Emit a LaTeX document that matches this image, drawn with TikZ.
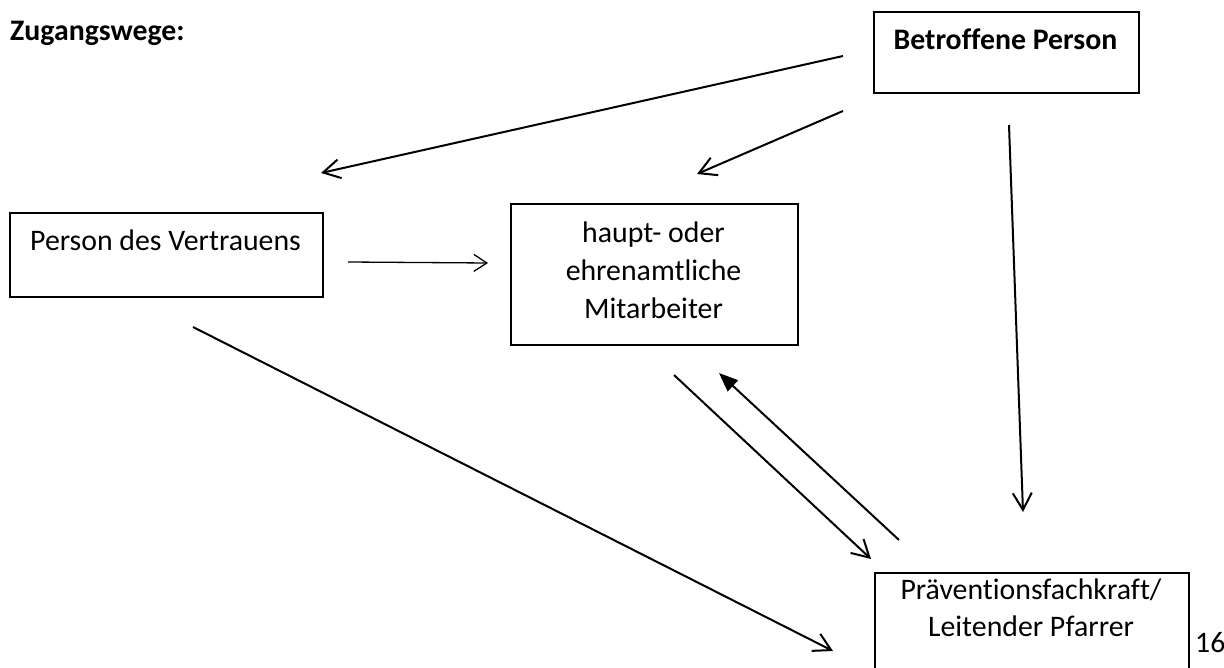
\documentclass[tikz,border=0pt]{standalone}
\usepackage{fontspec}
\setmainfont{Carlito}[Ligatures=NoCommon]
\usetikzlibrary{arrows.meta}
\begin{document}
\begin{tikzpicture}[x=1pt,y=-1pt,
  box/.style={draw,line width=2pt,rectangle,inner sep=0pt,anchor=north west},
  txt/.style={font=\fontsize{29.8}{38}\selectfont,anchor=base,inner sep=0pt},
  btxt/.style={font=\fontsize{29.8}{38}\selectfont\bfseries,inner sep=0pt},
  conn/.style={line width=2pt,-{Straight Barb[length=17pt,width=19pt,line width=2pt]}},
  thin/.style={line width=1.3pt,-{Straight Barb[length=13pt,width=17pt,line width=1.3pt]}},
  solid/.style={line width=2pt,-{Triangle[length=19pt,width=15pt]}}]
\useasboundingbox (0,0) rectangle (1224,668);
\clip (0,0) rectangle (1224,668);
\fill[white] (0,0) rectangle (1224,668);
% title
\node[btxt,anchor=base west] (title) at (10,41) {Zugangswege:};
% boxes
\node[box,minimum width=265pt,minimum height=81pt] (bp) at (873,11) {};
\node[btxt,anchor=base] (bpt) at (1005.5,50) {Betroffene Person};
\node[box,minimum width=313pt,minimum height=84pt] (pv) at (9,212) {};
\node[txt] (pvt) at (165.5,251) {Person des Vertrauens};
\node[box,minimum width=287pt,minimum height=141pt] (ma) at (510,203) {};
\node[txt] (mat1) at (653.5,243) {haupt- oder};
\node[txt] (mat2) at (653.5,281) {ehrenamtliche};
\node[txt] (mat3) at (653.5,319) {Mitarbeiter};
\node[box,minimum width=314pt,minimum height=140pt] (pf) at (874,572) {};
\node[txt] (pft1) at (1031,599) {Präventionsfachkraft/};
\node[txt] (pft2) at (1031,636) {Leitender Pfarrer};
\node[txt,anchor=base west] (num) at (1195,652) {16};
% arrow ends
\coordinate (a1s) at (843,56);   \coordinate (a1e) at (321,173);
\coordinate (a2s) at (843,111);  \coordinate (a2e) at (697,174);
\coordinate (a3s) at (1009,125); \coordinate (a3e) at (1023,512);
\coordinate (a4s) at (348,262);  \coordinate (a4e) at (488,263);
\coordinate (a5s) at (193,327);  \coordinate (a5e) at (833,651);
\coordinate (a6s) at (674,375);  \coordinate (a6e) at (871,559);
\coordinate (a7s) at (899,540);  \coordinate (a7e) at (719,373);
\draw[conn] (a1s) -- (a1e);
\draw[conn] (a2s) -- (a2e);
\draw[conn] (a3s) -- (a3e);
\draw[thin] (a4s) -- (a4e);
\draw[conn] (a5s) -- (a5e);
\draw[conn] (a6s) -- (a6e);
\draw[solid] (a7s) -- (a7e);
\end{tikzpicture}
\end{document}
